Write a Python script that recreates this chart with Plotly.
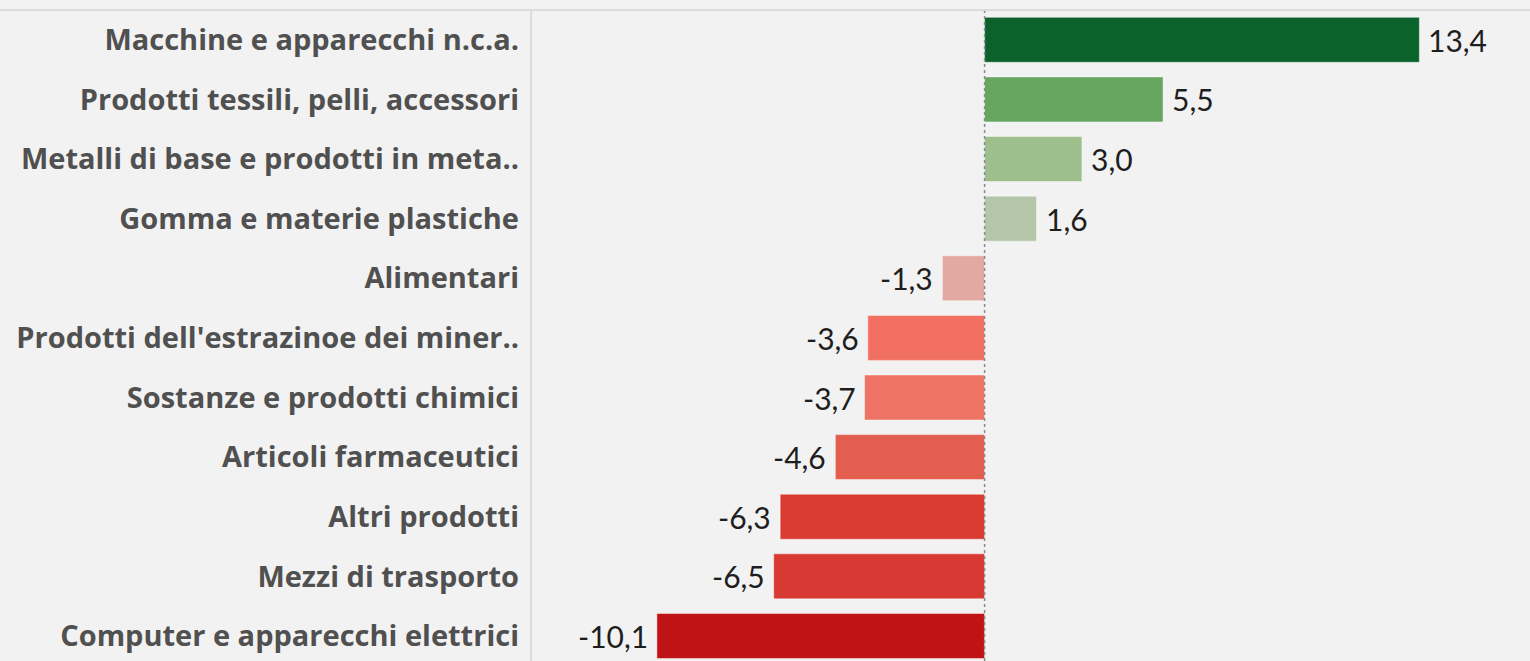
import plotly.graph_objects as go

categories = [
    "Macchine e apparecchi n.c.a.",
    "Prodotti tessili, pelli, accessori",
    "Metalli di base e prodotti in meta..",
    "Gomma e materie plastiche",
    "Alimentari",
    "Prodotti dell'estrazinoe dei miner..",
    "Sostanze e prodotti chimici",
    "Articoli farmaceutici",
    "Altri prodotti",
    "Mezzi di trasporto",
    "Computer e apparecchi elettrici",
]
values = [13.4, 5.5, 3.0, 1.6, -1.3, -3.6, -3.7, -4.6, -6.3, -6.5, -10.1]
colors = ["#0b632b", "#66a65f", "#9cbf8c", "#b3c6a7", "#e3a8a1", "#f27062",
          "#ef7364", "#e35e4e", "#d93a31", "#d83933", "#bf1316"]

BG = "#f2f2f2"
idx = list(range(len(categories)))

fig = go.Figure()
fig.add_trace(go.Bar(
    x=values, y=idx, orientation="h",
    marker=dict(color=colors, line=dict(color="rgba(255,255,255,0.45)", width=1)),
    width=0.755, hoverinfo="x+y", showlegend=False,
))

def fmt(v):
    return f"{v:.1f}".replace(".", ",")

for i, v in zip(idx, values):
    fig.add_annotation(
        x=v, y=i, xref="x", yref="y", text=fmt(v), showarrow=False,
        xanchor="left" if v >= 0 else "right", xshift=7 if v >= 0 else -7,
        font=dict(family="Lato", size=30, color="#1e1e1e"),
    )

# zero line dotted
fig.add_shape(type="line", xref="x", yref="paper", x0=0, x1=0, y0=0, y1=1,
              line=dict(color="#8a8a8a", width=1.5, dash="dot"), layer="above")
# top border across full width
fig.add_shape(type="line", xref="paper", yref="paper", x0=-531/999, x1=1, y0=1, y1=1,
              line=dict(color="#dcdcdc", width=2))
# pane separator
fig.add_shape(type="line", xref="paper", yref="paper", x0=0, x1=0, y0=0, y1=1,
              line=dict(color="#dcdcdc", width=2))

fig.update_layout(
    width=1530, height=661,
    margin=dict(l=531, r=0, t=10, b=0),
    paper_bgcolor=BG, plot_bgcolor=BG,
    xaxis=dict(range=[-13.98, 16.81], showgrid=False, zeroline=False,
               showticklabels=False, ticks="", fixedrange=True),
    yaxis=dict(range=[10.42, -0.5], tickmode="array", tickvals=idx, ticktext=categories,
               showgrid=False, zeroline=False, ticks="", ticklabelstandoff=11,
               tickfont=dict(family="Open Sans", size=29, color="#505050", weight="bold"),
               fixedrange=True),
)

fig.write_html("out.html", config={"displayModeBar": False},
               post_script="document.body.style.margin='0';document.body.style.overflow='hidden';")
